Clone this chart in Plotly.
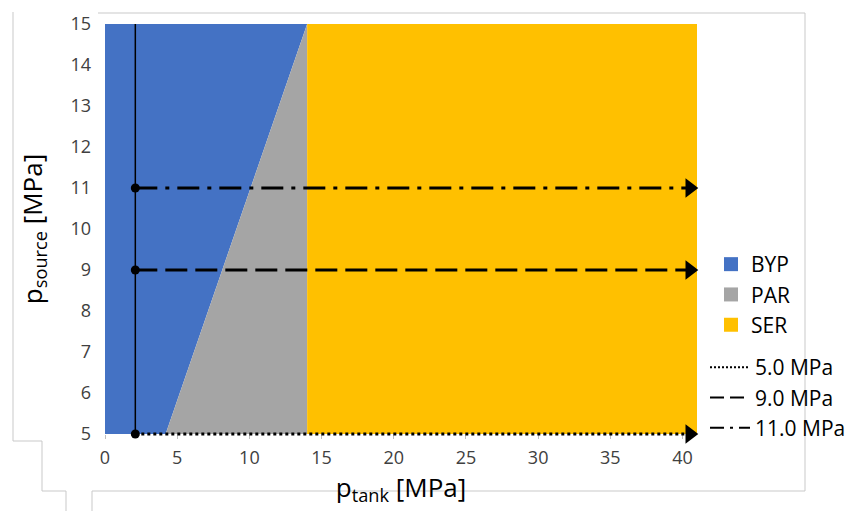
import plotly.graph_objects as go

# ---- data ----
byp_x = [0, 4.2, 14.0, 0]
byp_y = [5, 5, 15, 15]
par_x = [4.2, 14.0, 14.0]
par_y = [5, 5, 15]
ser_x = [14.0, 41, 41, 14.0]
ser_y = [5, 5, 15, 15]

region_names = ["BYP", "PAR", "SER"]
region_colors = ["#4472C4", "#A5A5A5", "#FFC000"]

p_start = 2.1
p_end = 40.5
source_levels = [5.0, 9.0, 11.0]
level_names = ["5.0 MPa", "9.0 MPa", "11.0 MPa"]
level_dash = ["3px,3px", "22px,8px", "22px,8px,4px,8px"]
legend_dash = ["2px,2px", "14px,6px", "14px,6px,3px,6px"]

x_ticks = [0, 5, 10, 15, 20, 25, 30, 35, 40]
y_ticks = [5, 6, 7, 8, 9, 10, 11, 12, 13, 14, 15]

FONT = "Open Sans"

# layout geometry (pixels)
W, H = 855, 511
L, R, T, B = 105, 158, 24, 67
pw, ph = W - L - R, H - T - B
plot_bottom = 434
ext = (H - B) - plot_bottom          # extra pixels below the y=5 line
y_lo = 5 - ext * (15 - 5) / (plot_bottom - T)

fig = go.Figure()

for xs, ys, name, col in zip([byp_x, par_x, ser_x], [byp_y, par_y, ser_y],
                             region_names, region_colors):
    fig.add_trace(go.Scatter(x=xs, y=ys, fill="toself", fillcolor=col, mode="none",
                             showlegend=False, hoverinfo="skip"))
    fig.add_trace(go.Scatter(x=[None], y=[None], mode="markers", name=name,
                             marker=dict(symbol="square", size=14, color=col),
                             legend="legend"))

# vertical line
fig.add_trace(go.Scatter(x=[p_start, p_start], y=[5, 15], mode="lines", yaxis="y2",
                         line=dict(color="black", width=1.5), showlegend=False))

for lvl, nm, dsh, ldsh in zip(source_levels, level_names, level_dash, legend_dash):
    fig.add_trace(go.Scatter(x=[p_start, p_end], y=[lvl, lvl], mode="lines", yaxis="y2",
                             line=dict(color="black", width=3, dash=dsh),
                             showlegend=False))
    fig.add_trace(go.Scatter(x=[p_start, p_end], y=[lvl, lvl], mode="markers", yaxis="y2",
                             marker=dict(symbol=["circle", "triangle-right"], size=[9, 17],
                                         color="black", opacity=1, line=dict(width=0)),
                             cliponaxis=False, showlegend=False))
    fig.add_trace(go.Scatter(x=[None], y=[None], mode="lines", name=nm,
                             line=dict(color="black", width=2, dash=ldsh),
                             legend="legend2"))


def px(x):
    return (x - L) / pw


def py(y):
    return (H - B - y) / ph


frame = [
    ((98, 13), (805, 13)),
    ((805, 13), (805, 491)),
    ((805, 491), (92, 491)),
    ((92, 491), (92, 512)),
    ((13, 12), (13, 441)),
    ((13, 441), (42, 441)),
    ((42, 441), (42, 491)),
    ((42, 491), (66, 491)),
    ((66, 491), (66, 512)),
]
shapes = []
for (x0, y0), (x1, y1) in frame:
    shapes.append(dict(type="line", xref="paper", yref="paper",
                       x0=px(x0), y0=py(y0), x1=px(x1), y1=py(y1),
                       line=dict(color="#C9C9C9", width=1), layer="below"))

fig.update_layout(
    width=W, height=H,
    margin=dict(l=L, r=R, t=T, b=B, autoexpand=False),
    paper_bgcolor="white", plot_bgcolor="rgba(0,0,0,0)",
    font=dict(family=FONT, color="#404040"),
    shapes=shapes,
    xaxis=dict(range=[0, 41], tickvals=x_ticks, showgrid=False, zeroline=False,
               anchor="y", ticks="outside", ticklen=4, tickcolor="#BFBFBF",
               ticklabelstandoff=3,
               tickfont=dict(size=18, color="#404040"),
               title=dict(text="p<sub>tank</sub> [MPa]", font=dict(size=26, color="black"),
                          standoff=9)),
    yaxis=dict(range=[5, 15], domain=[ext / ph, 1], tickvals=y_ticks, showgrid=False,
               zeroline=False, ticks="", ticklabelstandoff=13,
               tickfont=dict(size=18, color="#404040"),
               title=dict(text="p<sub>source</sub> [MPa]", font=dict(size=26, color="black"),
                          standoff=20)),
    yaxis2=dict(range=[y_lo, 15], domain=[0, 1], anchor="x", visible=False,
                showgrid=False, zeroline=False),
    legend=dict(x=px(711), y=py(244), xanchor="left", yanchor="top",
                font=dict(size=21, color="black", family=FONT), bgcolor="rgba(0,0,0,0)",
                itemwidth=30),
    legend2=dict(x=px(705), y=py(347), xanchor="left", yanchor="top",
                 font=dict(size=21, color="black", family=FONT), bgcolor="rgba(0,0,0,0)",
                 itemwidth=40),
)

fig.write_html("out.html")
